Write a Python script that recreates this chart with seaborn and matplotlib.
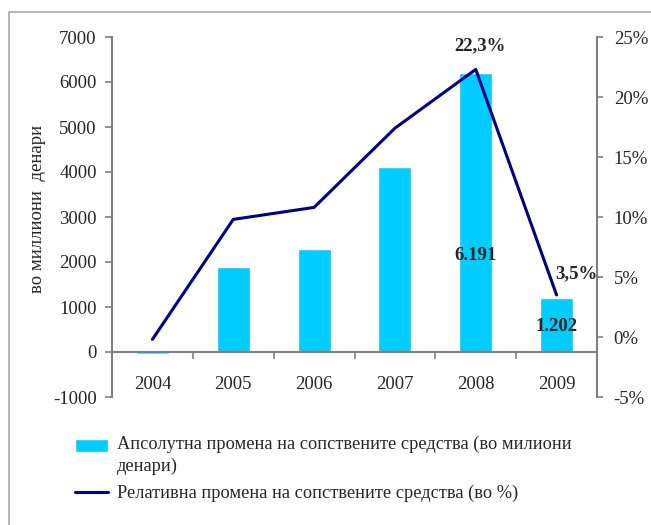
import matplotlib
matplotlib.use("Agg")
import matplotlib.pyplot as plt
from matplotlib.patches import Rectangle
from matplotlib.legend_handler import HandlerPatch
from matplotlib.ticker import FixedLocator, FuncFormatter
import seaborn as sns
import pandas as pd

# Data
years = ["2004", "2005", "2006", "2007", "2008", "2009"]
absolute_change = [-50, 1900, 2300, 4110, 6191, 1202]       # million denars
relative_change = [-0.2, 9.8, 10.8, 17.4, 22.3, 3.5]        # percent
left_ticks = [-1000, 0, 1000, 2000, 3000, 4000, 5000, 6000, 7000]
right_ticks = [-5, 0, 5, 10, 15, 20, 25]

bar_label = "Апсолутна промена на сопствените средства (во милиони\nденари)"
line_label = "Релативна промена на сопствените средства (во %)"
ylabel = "во миллиони  денари"

sns.set_theme(style="white")
plt.rcParams["font.family"] = ["Liberation Serif", "DejaVu Serif"]
plt.rcParams["font.size"] = 13.5
plt.rcParams["axes.unicode_minus"] = False

BAR_COLOR = "#00CCFF"
LINE_COLOR = "#000080"
AXIS_GRAY = "#808080"

df = pd.DataFrame({"year": years, "abs": absolute_change, "rel": relative_change})

fig = plt.figure(figsize=(6.51, 5.25), dpi=100)
ax = fig.add_axes([112 / 651, 1 - 397 / 525, (597 - 112) / 651, 360 / 525])

# Outer frame
fig.patches.append(Rectangle((9 / 651, -0.05), 1.2, 1 - 12 / 525 + 0.05,
                             transform=fig.transFigure, fill=False,
                             edgecolor="#A8A8A8", linewidth=1.2))

sns.barplot(data=df, x="year", y="abs", color=BAR_COLOR, width=0.41,
            saturation=1, ax=ax, label=bar_label)
if ax.get_legend() is not None:
    ax.get_legend().remove()
ax.set_xlim(-0.5, 5.5)
ax.set_ylim(-1000, 7000)
ax.set_yticks(left_ticks)
ax.set_xlabel("")
ax.set_ylabel(ylabel, fontsize=13.5, labelpad=5)
ax.yaxis.label.set_y(0.522)

for s in ["top", "right"]:
    ax.spines[s].set_visible(False)
ax.spines["bottom"].set_position(("data", 0))
for s in ["left", "bottom"]:
    ax.spines[s].set_color(AXIS_GRAY)
    ax.spines[s].set_linewidth(1.5)

# category labels on minor ticks, separators on major ticks
ax.xaxis.set_major_locator(FixedLocator([0.5, 1.5, 2.5, 3.5, 4.5]))
ax.xaxis.set_major_formatter(FuncFormatter(lambda v, p: ""))
ax.xaxis.set_minor_locator(FixedLocator(range(len(years))))
ax.xaxis.set_minor_formatter(FuncFormatter(lambda v, p: years[int(round(v))]))
ax.tick_params(axis="x", which="major", direction="out", length=5, width=1.2,
               color=AXIS_GRAY, bottom=True)
ax.tick_params(axis="x", which="minor", length=0, pad=17.5, labelsize=13.5)
ax.tick_params(axis="y", direction="out", length=5, width=1.2,
               color=AXIS_GRAY, left=True, labelsize=13.5, pad=6)

# Secondary axis with relative change
ax2 = ax.twinx()
sns.lineplot(x=list(range(len(years))), y=relative_change, color=LINE_COLOR,
             linewidth=2.2, ax=ax2, label=line_label, legend=False)
ax2.set_ylim(-5, 25)
ax2.set_yticks(right_ticks)
ax2.yaxis.set_major_formatter(FuncFormatter(lambda v, p: f"{v:.0f}%"))
for s in ["top", "left", "bottom"]:
    ax2.spines[s].set_visible(False)
ax2.spines["right"].set_color(AXIS_GRAY)
ax2.spines["right"].set_linewidth(1.5)
ax2.tick_params(axis="y", direction="out", length=4, width=1.2,
                color=AXIS_GRAY, right=True, labelsize=13.5, pad=8)

# Value labels
def fmt_abs(v):
    return f"{v / 1000:.3f}"

def fmt_rel(v):
    return f"{v:.1f}".replace(".", ",") + "%"

ax.text(4, 2150, fmt_abs(absolute_change[4]), ha="center", va="center",
        fontsize=13.5, fontweight="bold")
ax.text(5, 560, fmt_abs(absolute_change[5]), ha="center", va="center",
        fontsize=13.5, fontweight="bold")
ax2.annotate(fmt_rel(relative_change[4]), (4, relative_change[4]),
             xytext=(3, 17), textcoords="offset points", ha="center",
             va="center", fontsize=13.5, fontweight="bold")
ax2.annotate(fmt_rel(relative_change[5]), (5, relative_change[5]),
             xytext=(14, 15), textcoords="offset points", ha="center",
             va="center", fontsize=13.5, fontweight="bold")


# Legend below the plot; the bar swatch sits beside the first text line
def top_line_patch(legend, orig_handle, xdescent, ydescent, width, height, fontsize):
    return Rectangle((-xdescent, -ydescent + 0.55 * fontsize), width, height)


bar_handle = ax.containers[0].patches[1]
h2, l2 = ax2.get_legend_handles_labels()
leg = fig.legend([bar_handle] + h2, [bar_label] + l2, loc="upper left",
                 bbox_to_anchor=(68 / 651, 1 - 428 / 525), frameon=False,
                 fontsize=13.2, handlelength=1.8, handletextpad=0.45,
                 labelspacing=0.52, borderaxespad=0,
                 handler_map={bar_handle: HandlerPatch(patch_func=top_line_patch)})
for t in leg.get_texts():
    t.set_linespacing(1.4)

fig.savefig("out.png", dpi=100)
